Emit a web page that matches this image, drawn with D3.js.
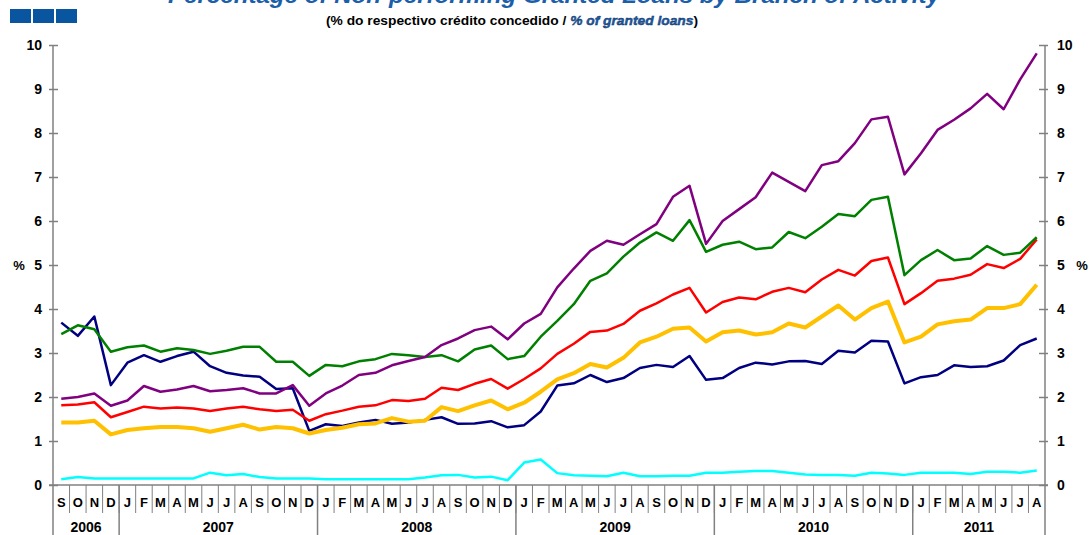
<!DOCTYPE html>
<html>
<head>
<meta charset="utf-8">
<script src="https://cdnjs.cloudflare.com/ajax/libs/d3/7.8.5/d3.min.js"></script>
<style>
  body { margin: 0; background: #fff; }
  svg { display: block; font-family: "Liberation Sans", Arial, sans-serif; }
</style>
</head>
<body>
<div id="chart"></div>
<script>
// months from Sep 2006 to Aug 2011
var monthLabels = ["S","O","N","D",
  "J","F","M","A","M","J","J","A","S","O","N","D",
  "J","F","M","A","M","J","J","A","S","O","N","D",
  "J","F","M","A","M","J","J","A","S","O","N","D",
  "J","F","M","A","M","J","J","A","S","O","N","D",
  "J","F","M","A","M","J","J","A"];
var years = ["2006","2007","2008","2009","2010","2011"];
var yearMonths = [4, 12, 12, 12, 12, 8];
var yTicks = [0,1,2,3,4,5,6,7,8,9,10];

var purple = [1.96,2.00,2.08,1.80,1.92,2.25,2.12,2.17,2.25,2.13,2.16,2.20,2.08,2.08,2.27,1.80,
  2.08,2.26,2.50,2.55,2.72,2.82,2.91,3.18,3.33,3.52,3.60,3.31,3.67,3.89,4.49,4.92,
  5.32,5.55,5.46,5.70,5.93,6.55,6.80,5.48,6.00,6.27,6.54,7.10,6.89,6.68,7.27,7.36,
  7.77,8.31,8.37,7.06,7.54,8.07,8.30,8.56,8.89,8.54,9.22,9.81];
var green = [3.43,3.63,3.54,3.03,3.13,3.17,3.03,3.11,3.07,2.98,3.05,3.14,3.14,2.80,2.80,2.48,
  2.73,2.70,2.81,2.86,2.98,2.95,2.91,2.95,2.81,3.08,3.17,2.86,2.93,3.37,3.73,4.11,
  4.64,4.81,5.19,5.51,5.74,5.55,6.02,5.30,5.46,5.53,5.36,5.40,5.75,5.61,5.87,6.16,
  6.11,6.48,6.55,4.77,5.11,5.34,5.11,5.15,5.43,5.23,5.28,5.63];
var red = [1.81,1.83,1.88,1.54,1.66,1.78,1.74,1.76,1.74,1.68,1.74,1.78,1.72,1.68,1.71,1.46,
  1.61,1.69,1.78,1.81,1.93,1.91,1.96,2.21,2.16,2.30,2.41,2.19,2.41,2.65,2.98,3.21,
  3.48,3.51,3.66,3.96,4.13,4.33,4.48,3.92,4.16,4.26,4.22,4.39,4.48,4.38,4.67,4.89,
  4.76,5.09,5.17,4.11,4.36,4.64,4.69,4.78,5.02,4.93,5.14,5.58];
var gold = [1.42,1.42,1.46,1.15,1.25,1.29,1.32,1.32,1.29,1.21,1.29,1.37,1.26,1.32,1.29,1.17,
  1.25,1.30,1.38,1.40,1.52,1.44,1.46,1.77,1.68,1.81,1.92,1.72,1.87,2.12,2.40,2.54,
  2.75,2.67,2.89,3.24,3.37,3.55,3.58,3.26,3.47,3.51,3.42,3.47,3.67,3.58,3.83,4.08,
  3.76,4.02,4.17,3.24,3.37,3.65,3.72,3.76,4.02,4.02,4.11,4.55];
var navy = [3.69,3.39,3.83,2.27,2.78,2.95,2.80,2.93,3.03,2.70,2.55,2.49,2.46,2.18,2.20,1.23,
  1.38,1.34,1.42,1.48,1.39,1.42,1.48,1.54,1.39,1.40,1.45,1.31,1.36,1.67,2.26,2.31,
  2.50,2.34,2.43,2.66,2.73,2.68,2.93,2.39,2.43,2.66,2.78,2.74,2.81,2.82,2.75,3.05,
  3.01,3.28,3.26,2.31,2.45,2.50,2.72,2.68,2.70,2.83,3.18,3.33];
var cyan = [0.13,0.18,0.15,0.15,0.15,0.15,0.15,0.15,0.15,0.28,0.22,0.25,0.18,0.15,0.15,0.15,
  0.13,0.13,0.13,0.13,0.13,0.13,0.17,0.22,0.23,0.17,0.19,0.11,0.51,0.58,0.27,0.22,
  0.21,0.20,0.28,0.20,0.20,0.21,0.21,0.28,0.28,0.30,0.32,0.32,0.28,0.24,0.23,0.23,
  0.21,0.28,0.26,0.23,0.28,0.28,0.28,0.25,0.30,0.30,0.28,0.33];

// drawing order: first is at the back
var seriesList = [
  { name: "cyan", values: cyan, color: "#00ffff", width: 2.5 },
  { name: "navy", values: navy, color: "#000080", width: 2.5 },
  { name: "gold", values: gold, color: "#ffc000", width: 4 },
  { name: "red", values: red, color: "#ff0000", width: 2.5 },
  { name: "green", values: green, color: "#008000", width: 2.5 },
  { name: "purple", values: purple, color: "#800080", width: 2.5 }
];

var W = 1089, H = 535;
var margin = { top: 45, right: 44, bottom: 50, left: 53 },
    width = W - margin.left - margin.right,
    height = H - margin.top - margin.bottom;

var axisCol = "#808080";
var blue = "#1b5ea9";

var svg = d3.select("#chart")
    .append("svg")
    .attr("width", W)
    .attr("height", H);

//////////
// HEADER //
//////////

// the little blue squares
svg.selectAll(".sq")
    .data([0, 1, 2])
    .enter()
    .append("rect")
    .attr("x", function (d) { return 10 + d * 23; })
    .attr("y", 9)
    .attr("width", 21)
    .attr("height", 14)
    .style("fill", "#0a559f");

// title (its top is cut off in the original too)
svg.append("text")
    .attr("x", 168)
    .attr("y", 3)
    .attr("textLength", 772)
    .attr("lengthAdjust", "spacingAndGlyphs")
    .style("font-size", "22px")
    .style("font-weight", "bold")
    .style("font-style", "italic")
    .style("fill", blue)
    .text("Percentage of Non-performing Granted Loans by Branch of Activity");

var sub = svg.append("text")
    .attr("x", 326)
    .attr("y", 25)
    .attr("textLength", 372)
    .attr("lengthAdjust", "spacingAndGlyphs")
    .style("font-size", "13px")
    .style("font-weight", "bold")
    .style("fill", "#000");
sub.append("tspan").text("(% do respectivo crédito concedido / ");
sub.append("tspan")
    .style("font-style", "italic")
    .style("fill", blue)
    .style("stroke", "#0b2c5c")
    .style("stroke-width", "0.4px")
    .text("% of granted loans");
sub.append("tspan").text(")");

var inner = svg.append("g")
    .attr("transform", "translate(" + margin.left + "," + margin.top + ")");

//////////
// SCALES //
//////////

var x = d3.scaleBand()
    .domain(d3.range(monthLabels.length))
    .range([0, width]);

var y = d3.scaleLinear()
    .domain([0, 10])
    .range([height, 0]);

//////////
// AXIS //
//////////

var yAxisL = inner.append("g")
    .call(d3.axisLeft(y).tickValues(yTicks).tickSize(4).tickPadding(7).tickSizeOuter(0));
var yAxisR = inner.append("g")
    .attr("transform", "translate(" + width + ",0)")
    .call(d3.axisRight(y).tickValues(yTicks).tickSize(4).tickPadding(8).tickSizeOuter(0));

// ticks cross the axis line
yAxisL.selectAll(".tick line").attr("x1", 5).attr("x2", -4);
yAxisR.selectAll(".tick line").attr("x1", -6).attr("x2", 3);

[yAxisL, yAxisR].forEach(function (ax) {
    ax.select(".domain").remove();
    ax.selectAll("line").style("stroke", axisCol).style("stroke-width", 1.5);
    ax.selectAll("text")
        .style("font-family", "'Liberation Sans', Arial, sans-serif")
        .style("font-size", "14px")
        .style("font-weight", "bold")
        .style("fill", "#000");
});

// % labels
inner.append("text")
    .attr("x", -34).attr("y", y(5)).attr("dy", "0.35em")
    .attr("text-anchor", "middle")
    .style("font-size", "13px").style("font-weight", "bold")
    .text("%");
inner.append("text")
    .attr("x", width + 37).attr("y", y(5)).attr("dy", "0.35em")
    .attr("text-anchor", "middle")
    .style("font-size", "13px").style("font-weight", "bold")
    .text("%");

// vertical frame lines, running down to the bottom of the year row
[0, width].forEach(function (xx) {
    inner.append("line")
        .attr("x1", xx).attr("x2", xx)
        .attr("y1", 0).attr("y2", height + margin.bottom)
        .style("stroke", axisCol).style("stroke-width", 1.5);
});

// horizontal axis line
inner.append("line")
    .attr("x1", -4).attr("x2", width + 3)
    .attr("y1", height).attr("y2", height)
    .style("stroke", axisCol).style("stroke-width", 1.5);

// month cells
var xAxis = inner.append("g");
xAxis.selectAll(".msep")
    .data(d3.range(1, monthLabels.length))
    .enter()
    .append("line")
    .attr("x1", function (d) { return x(d); })
    .attr("x2", function (d) { return x(d); })
    .attr("y1", height)
    .attr("y2", height + 28)
    .style("stroke", axisCol)
    .style("stroke-width", 1);

xAxis.selectAll(".mlab")
    .data(monthLabels)
    .enter()
    .append("text")
    .attr("x", function (d, i) { return x(i) + x.bandwidth() / 2; })
    .attr("y", height + 22)
    .attr("text-anchor", "middle")
    .style("font-size", "13px")
    .style("font-weight", "bold")
    .text(function (d) { return d; });

// year cells
var starts = [];
var acc = 0;
yearMonths.forEach(function (n) { starts.push(acc); acc += n; });

xAxis.selectAll(".ysep")
    .data(starts.slice(1))
    .enter()
    .append("line")
    .attr("x1", function (d) { return x(d); })
    .attr("x2", function (d) { return x(d); })
    .attr("y1", height)
    .attr("y2", height + margin.bottom)
    .style("stroke", axisCol)
    .style("stroke-width", 1.5);

xAxis.selectAll(".ylab")
    .data(years)
    .enter()
    .append("text")
    .attr("x", function (d, i) {
        return (x(starts[i]) + x(starts[i] + yearMonths[i] - 1) + x.bandwidth()) / 2;
    })
    .attr("y", height + 47)
    .attr("text-anchor", "middle")
    .style("font-size", "14px")
    .style("font-weight", "bold")
    .text(function (d) { return d; });

//////////
// LINES //
//////////

var line = d3.line()
    .x(function (d, i) { return x(i) + x.bandwidth() / 2; })
    .y(function (d) { return y(d); });

inner.selectAll(".series")
    .data(seriesList)
    .enter()
    .append("path")
    .attr("class", function (d) { return "series " + d.name; })
    .attr("d", function (d) { return line(d.values); })
    .style("fill", "none")
    .style("stroke", function (d) { return d.color; })
    .style("stroke-width", function (d) { return d.width; })
    .style("stroke-linejoin", "round");
</script>
</body>
</html>
